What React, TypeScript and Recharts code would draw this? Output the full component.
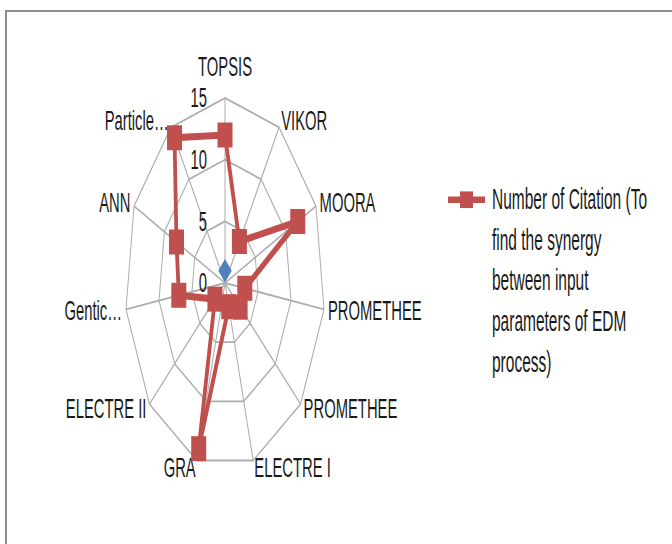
import React from "react";
import {
  Legend,
  PolarAngleAxis,
  PolarGrid,
  PolarRadiusAxis,
  Radar,
  RadarChart,
} from "recharts";

// categories, clockwise from the top
const methods = [
  "TOPSIS",
  "VIKOR",
  "MOORA",
  "PROMETHEE",
  "PROMETHEE",
  "ELECTRE I",
  "GRA",
  "ELECTRE II",
  "Gentic…",
  "ANN",
  "Particle…",
];
const citations = [12, 4, 12, 3, 3, 2, 14, 2, 7, 8, 14];
// the stray blue series: one point only
const blueSeries = [1, null, null, null, null, null, null, null, null, null, null];
const radiusTicks = [0, 5, 10, 15];
const legendLines = [
  "Number of Citation (To",
  "find the synergy",
  "between input",
  "parameters of EDM",
  "process)",
];

const data = methods.map((name, i) => ({
  idx: i,
  name,
  citations: citations[i],
  blue: blueSeries[i],
}));

// the reference is a stretched picture: the chart is drawn round, then pulled down
const STRETCH = 1.85;
const FONT = '"Liberation Sans", Arial, sans-serif';
const TEXT = "#1a1a1a";
const RED = "#c0504d";
const BLUE = "#4f81bd";
const GRID = "#adadad";

function AngleTick(props: any) {
  const { x, y, textAnchor, payload } = props;
  const dy = textAnchor === "middle" ? -13 : 0;
  return (
    <text
      x={x}
      y={y + dy}
      textAnchor={textAnchor}
      dominantBaseline="central"
      fontFamily={FONT}
      fontSize={14.8}
      fill={TEXT}
    >
      {methods[payload.value]}
    </text>
  );
}

function RadiusTick(props: any) {
  const { x, y, payload } = props;
  return (
    <text
      x={x - 18}
      y={y}
      textAnchor="end"
      dominantBaseline="central"
      fontFamily={FONT}
      fontSize={14.8}
      fill={TEXT}
    >
      {payload.value}
    </text>
  );
}

function SquareDot(props: any) {
  const { cx, cy, index } = props;
  return <rect key={`sq-${index}`} x={cx - 7.5} y={cy - 6.75} width={15} height={13.5} fill={RED} />;
}

function DiamondDot(props: any) {
  const { cx, cy, index } = props;
  if (blueSeries[index] == null) return <g key={`dm-${index}`} />;
  return (
    <polygon
      key={`dm-${index}`}
      points={`${cx},${cy - 6.3} ${cx + 6.7},${cy} ${cx},${cy + 6.3} ${cx - 6.7},${cy}`}
      fill={BLUE}
    />
  );
}

function LegendBox() {
  const lh = 21.9;
  return (
    <div
      style={{
        position: "relative",
        fontFamily: FONT,
        fontSize: 15.5,
        lineHeight: `${lh}px`,
        color: TEXT,
        paddingLeft: 46,
      }}
    >
      <svg width={40} height={lh} style={{ position: "absolute", left: 0, top: 0 }}>
        <line x1={2} y1={lh / 2} x2={39} y2={lh / 2} stroke={RED} strokeWidth={3.6} />
        <rect x={14} y={lh / 2 - 4.5} width={13} height={9} fill={RED} />
      </svg>
      {legendLines.map((l) => (
        <div key={l} style={{ whiteSpace: "nowrap" }}>
          {l}
        </div>
      ))}
    </div>
  );
}

export default function App() {
  return (
    <div
      style={{
        position: "absolute",
        left: 0,
        top: 0,
        width: 672,
        height: 544,
        overflow: "hidden",
        background: "#fff",
      }}
    >
      <div
        style={{
          position: "absolute",
          left: 5,
          top: 10,
          width: 700,
          height: 600,
          borderTop: "2px solid #8c8c8c",
          borderLeft: "2px solid #8c8c8c",
        }}
      />
      <div
        style={{
          position: "absolute",
          left: 0,
          top: 0,
          transform: `scaleY(${STRETCH})`,
          transformOrigin: "0 0",
        }}
      >
        <RadarChart
          width={672}
          height={544 / STRETCH}
          data={data}
          cx={225}
          cy={283 / STRETCH}
          outerRadius={100}
          margin={{ top: 0, right: 0, bottom: 0, left: 0 }}
        >
          <PolarGrid stroke={GRID} strokeWidth={1} />
          <PolarAngleAxis
            dataKey="idx"
            tick={<AngleTick />}
            tickLine={false}
            axisLine={false}
            tickSize={4}
          />
          <PolarRadiusAxis
            angle={90}
            domain={[radiusTicks[0], radiusTicks[radiusTicks.length - 1]]}
            tickCount={radiusTicks.length}
            tick={<RadiusTick />}
            axisLine={false}
            tickLine={false}
          />
          <Radar
            dataKey="citations"
            stroke={RED}
            strokeWidth={3.8}
            fill="none"
            dot={SquareDot}
            isAnimationActive={false}
          />
          <Radar
            dataKey="blue"
            stroke="none"
            fill="none"
            dot={DiamondDot}
            isAnimationActive={false}
          />
          <Legend
            layout="vertical"
            align="right"
            verticalAlign="top"
            wrapperStyle={{ left: 446, top: 97.2, width: 220, right: "auto" }}
            content={() => <LegendBox />}
          />
        </RadarChart>
      </div>
    </div>
  );
}
